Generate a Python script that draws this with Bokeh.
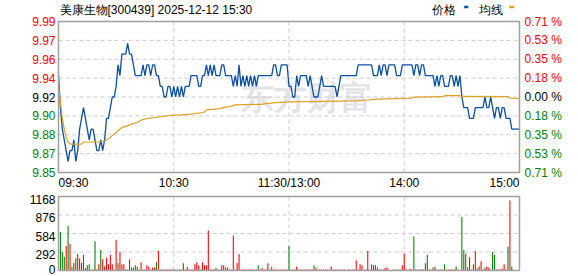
from bokeh.plotting import figure
from bokeh.models import Range1d, Label, BoxAnnotation
from bokeh.core.properties import value
from bokeh.embed import file_html
from bokeh.resources import INLINE

# ---------------- data ----------------
title_text = "美康生物[300439] 2025-12-12 15:30"
legend_names = ["价格", "均线"]
prev_close = 9.92
pct_max = 0.71
price_tick_labels = ["9.99", "9.97", "9.96", "9.94", "9.92", "9.90", "9.88", "9.87", "9.85"]
pct_tick_labels = ["0.71 %", "0.53 %", "0.35 %", "0.18 %", "0.00 %", "0.18 %", "0.35 %", "0.53 %", "0.71 %"]
time_labels = ["09:30", "10:30", "11:30/13:00", "14:00", "15:00"]
time_label_minutes = [0, 60, 120, 180, 240]
vol_max = 1168
vol_tick_values = [1168, 876, 584, 292, 0]
vol_tick_labels = ["1168", "876", "584", "292", "0"]

price = [
    9.94, 9.91, 9.89, 9.88, 9.87, 9.86, 9.87, 9.87, 9.88, 9.86,
    9.87, 9.89, 9.90, 9.91, 9.90, 9.89, 9.88, 9.89, 9.89, 9.88,
    9.87, 9.87, 9.88, 9.87, 9.88, 9.90, 9.90, 9.91, 9.92, 9.92,
    9.93, 9.95, 9.94, 9.96, 9.96, 9.96, 9.97, 9.96, 9.96, 9.95,
    9.94, 9.94, 9.94, 9.94, 9.95, 9.94, 9.95, 9.95, 9.94, 9.95,
    9.95, 9.94, 9.94, 9.93, 9.93, 9.92, 9.92, 9.93, 9.93, 9.92,
    9.93, 9.92, 9.93, 9.92, 9.93, 9.92, 9.93, 9.93, 9.93, 9.94,
    9.94, 9.94, 9.94, 9.93, 9.93, 9.94, 9.94, 9.95, 9.94, 9.95,
    9.94, 9.95, 9.94, 9.94, 9.94, 9.95, 9.95, 9.94, 9.94, 9.94,
    9.94, 9.93, 9.94, 9.93, 9.95, 9.93, 9.94, 9.93, 9.94, 9.93,
    9.94, 9.93, 9.94, 9.93, 9.94, 9.94, 9.94, 9.94, 9.94, 9.94,
    9.94, 9.94, 9.95, 9.95, 9.94, 9.94, 9.95, 9.95, 9.95, 9.95,
    9.93, 9.93, 9.92, 9.92, 9.94, 9.93, 9.94, 9.94, 9.94, 9.94,
    9.93, 9.94, 9.93, 9.92, 9.92, 9.92, 9.93, 9.94, 9.93, 9.93,
    9.93, 9.93, 9.93, 9.93, 9.93, 9.92, 9.93, 9.94, 9.94, 9.94,
    9.94, 9.94, 9.94, 9.94, 9.94, 9.94, 9.95, 9.95, 9.95, 9.95,
    9.95, 9.95, 9.95, 9.95, 9.94, 9.94, 9.94, 9.95, 9.94, 9.95,
    9.95, 9.94, 9.95, 9.95, 9.95, 9.95, 9.94, 9.94, 9.94, 9.95,
    9.95, 9.95, 9.95, 9.95, 9.95, 9.94, 9.95, 9.95, 9.94, 9.95,
    9.95, 9.94, 9.94, 9.94, 9.94, 9.94, 9.93, 9.94, 9.93, 9.94,
    9.94, 9.93, 9.93, 9.93, 9.94, 9.94, 9.93, 9.94, 9.93, 9.94,
    9.92, 9.91, 9.91, 9.91, 9.90, 9.90, 9.90, 9.91, 9.91, 9.91,
    9.91, 9.91, 9.92, 9.91, 9.91, 9.92, 9.91, 9.90, 9.91, 9.91,
    9.90, 9.91, 9.91, 9.90, 9.90, 9.90, 9.89, 9.89, 9.89, 9.89,
    9.89,
]
minutes = list(range(len(price)))

avg_minutes = [0, 1, 2, 3, 4, 5, 6, 12, 13, 23, 24, 26, 28, 29, 31, 33, 36, 38, 41, 43,
               46, 50, 56, 60, 64, 69, 71, 75, 76, 77, 84, 86, 89, 92, 105, 113, 120,
               130, 155, 161, 166, 180, 184, 185, 200, 201, 209, 210, 234, 235, 240]
avg_price = [9.930, 9.915, 9.900, 9.890, 9.882, 9.878, 9.876, 9.876, 9.878, 9.878,
             9.879, 9.881, 9.884, 9.8855, 9.8885, 9.8916, 9.8931, 9.8947, 9.8962, 9.8984,
             9.8999, 9.9009, 9.9024, 9.9030, 9.9033, 9.9040, 9.9046, 9.9055, 9.9060, 9.9080,
             9.9092, 9.9101, 9.9110, 9.9126, 9.9132, 9.9148, 9.9154,
             9.9157, 9.9163, 9.9172, 9.9181, 9.9188, 9.9190, 9.9198, 9.9203, 9.9212,
             9.9212, 9.9205, 9.9203, 9.9190, 9.9186]

volume = [
    0, 606, 292, 216, 390, 703, 422, 54, 119, 195,
    260, 190, 119, 243, 38, 81, 97, 15, 15, 460,
    15, 97, 325, 178, 65, 200, 97, 243, 97, 15,
    487, 119, 292, 97, 97, 15, 15, 178, 49, 49,
    81, 65, 15, 130, 15, 15, 81, 65, 15, 49,
    49, 130, 308, 15, 15, 15, 15, 15, 15, 15,
    15, 15, 15, 15, 15, 114, 15, 54, 15, 15,
    15, 97, 130, 81, 15, 130, 81, 81, 633, 15,
    15, 15, 38, 15, 15, 81, 81, 49, 49, 15,
    15, 552, 15, 119, 260, 15, 15, 15, 15, 15,
    15, 15, 15, 15, 81, 15, 38, 15, 15, 114,
    15, 54, 15, 15, 15, 15, 15, 15, 15, 15,
    390, 15, 15, 15, 65, 15, 15, 15, 15, 15,
    15, 15, 15, 81, 49, 15, 15, 15, 15, 15,
    15, 15, 65, 15, 15, 15, 15, 15, 15, 15,
    0, 15, 15, 15, 15, 162, 15, 97, 81, 15,
    15, 308, 15, 97, 81, 81, 49, 15, 15, 15,
    38, 49, 15, 0, 15, 15, 15, 15, 15, 81,
    260, 15, 0, 27, 15, 536, 15, 15, 15, 15,
    15, 114, 243, 15, 15, 49, 65, 15, 15, 15,
    15, 97, 15, 15, 15, 15, 15, 65, 15, 0,
    844, 325, 260, 49, 211, 15, 97, 308, 32, 65,
    146, 15, 49, 65, 49, 15, 292, 243, 15, 15,
    15, 30, 97, 15, 373, 1104, 65, 0, 0, 0,
    243,
]
# r = up (red), g = down (green), one letter per minute, 10 per row
vol_dir_rows = [
    "rgggrgrgrg", "rrrrgggrrg", "rrgrrrrrrg", "rgrrrrrrgg", "ggrrrrrrrr",
    "rgrgrrrrrr", "rggrrgrrrr", "rrrrgrrrrr", "rrgrrrrggr", "rrgrrrrrrr",
    "rrrggrrrrr", "rrrrrrrrrr", "gggrrrgrrr", "rgrgrrrrrr", "rrrrrrrrrr",
    "rrrrrrrrrr", "rrrgrrrrgr", "rrrrrggrrr", "rrrrrgrrrg", "rrgrrrgrgr",
    "rgrrrrrgrr", "ggrrgrrrrr", "rrgrrrggrr", "rrrrgrgrrr", "r",
]
vol_dir = "".join(vol_dir_rows)

# ---------------- styling / geometry ----------------
FONT = "Liberation Sans"
RED = "#ff0000"
GREEN = "#008000"
DARK = "#000000"
BLUE = "#0a4fa3"
ORANGE = "#dca224"
GRID = "#cccccc"
BORDER = "#a0a0a0"
W, H = 578, 276
FL, FR = 58, 519          # panel left / right pixel
PT, PB = 21, 172          # price panel top / bottom pixel
VT, VB = 196, 270         # volume panel top / bottom pixel

lo = prev_close * (1 - pct_max / 100)
hi = prev_close * (1 + pct_max / 100)
n_ticks = len(price_tick_labels)
tick_y = [hi - i * (hi - lo) / (n_ticks - 1) for i in range(n_ticks)]
tick_colors = [RED if i < n_ticks // 2 else (DARK if i == n_ticks // 2 else GREEN) for i in range(n_ticks)]

kx = (FR - FL) / 240.0
x0, x1 = -FL / kx, 240 + (W - FR) / kx
ky = (PB - PT) / (hi - lo)
y0, y1 = lo - (H - PB) / ky, hi + PT / ky
kv = (VB - VT) / vol_max
v0, v1 = -(H - VB) / kv, vol_max + VT / kv

p = figure(width=W, height=H, output_backend="svg", toolbar_location=None, title=None,
           x_range=Range1d(x0, x1), y_range=Range1d(y0, y1),
           extra_y_ranges={"vol": Range1d(v0, v1)},
           x_axis_type=None, y_axis_type=None,
           min_border_left=0, min_border_right=0, min_border_top=0, min_border_bottom=0)
p.outline_line_color = None
p.background_fill_color = "white"
p.border_fill_color = "white"

dash = "4 3"
inner_t = time_label_minutes[1:-1]
# price panel grid
p.segment(x0=inner_t, y0=[lo] * 3, x1=inner_t, y1=[hi] * 3, line_color=GRID, line_dash=dash, line_width=1)
p.segment(x0=[0] * 7, y0=tick_y[1:-1], x1=[240] * 7, y1=tick_y[1:-1], line_color=GRID, line_dash=dash, line_width=1)
# volume panel grid
p.segment(x0=inner_t, y0=[0] * 3, x1=inner_t, y1=[vol_max] * 3, line_color=GRID, line_dash=dash,
          line_width=1, y_range_name="vol")
p.segment(x0=[0] * 3, y0=vol_tick_values[1:-1], x1=[240] * 3, y1=vol_tick_values[1:-1], line_color=GRID,
          line_dash=dash, line_width=1, y_range_name="vol")

# watermark
p.add_layout(Label(x=240, y=H - 97, x_units="screen", y_units="screen", text="东方财富",
                   text_font=FONT, text_font_size="33px", text_font_style="bold",
                   text_color="#e4e4e8", text_baseline="middle", level="underlay"))

p.line(minutes, price, line_color=BLUE, line_width=1.3)
p.line(avg_minutes, avg_price, line_color=ORANGE, line_width=1.2)

vcolors = [RED if d == "r" else GREEN for d in vol_dir[:len(volume)]]
p.vbar(x=minutes, top=volume, bottom=0, width=0.55, fill_color=vcolors, line_color=None,
       y_range_name="vol")

# panel borders
p.quad(left=[0], right=[240], bottom=[lo], top=[hi], fill_color=None, line_color=BORDER, line_width=1.5)
p.quad(left=[0], right=[240], bottom=[0], top=[vol_max], fill_color=None, line_color=BORDER,
       line_width=1.5, y_range_name="vol")

# tick labels
fnt = value(FONT)
p.text(x=[0] * n_ticks, y=tick_y, text=price_tick_labels, x_offset=-3, text_align="right",
       text_baseline="middle", text_color=tick_colors, text_font=fnt, text_font_size="12px")
p.text(x=[240] * n_ticks, y=tick_y, text=pct_tick_labels, x_offset=5, text_align="left",
       text_baseline="middle", text_color=tick_colors, text_font=fnt, text_font_size="12px")
vol_label_dy = [2.5, 2.5, 2.5, 2.5, -1]
p.text(x=[0] * len(vol_tick_values), y=vol_tick_values, text=vol_tick_labels, x_offset=-3,
       y_offset=vol_label_dy, text_align="right", text_baseline="middle", text_color=DARK,
       text_font=fnt, text_font_size="12px", y_range_name="vol")
aligns = ["left", "center", "center", "center", "right"]
p.text(x=time_label_minutes, y=[lo] * len(time_label_minutes), text=time_labels, y_offset=10,
       text_align=aligns, text_baseline="middle", text_color=DARK, text_font=fnt, text_font_size="12px")

# title and legend
ty = H - 9.5
p.add_layout(Label(x=59, y=ty, x_units="screen", y_units="screen", text=title_text,
                   text_baseline="middle", text_font=FONT, text_font_size="12px", text_color=DARK))
p.add_layout(Label(x=431, y=ty, x_units="screen", y_units="screen", text=legend_names[0],
                   text_baseline="middle", text_font=FONT, text_font_size="12px", text_color=DARK))
p.add_layout(Label(x=478.5, y=ty, x_units="screen", y_units="screen", text=legend_names[1],
                   text_baseline="middle", text_font=FONT, text_font_size="12px", text_color=DARK))
p.add_layout(BoxAnnotation(left=463.7, right=467.7, bottom=H - 7.7, top=H - 5.3,
                           left_units="screen", right_units="screen", top_units="screen",
                           bottom_units="screen", fill_color=BLUE, fill_alpha=1, line_alpha=0))
p.add_layout(BoxAnnotation(left=508.7, right=513.7, bottom=H - 7.7, top=H - 5.3,
                           left_units="screen", right_units="screen", top_units="screen",
                           bottom_units="screen", fill_color=ORANGE, fill_alpha=1, line_alpha=0))

open("out.html", "w").write(file_html(p, INLINE))
